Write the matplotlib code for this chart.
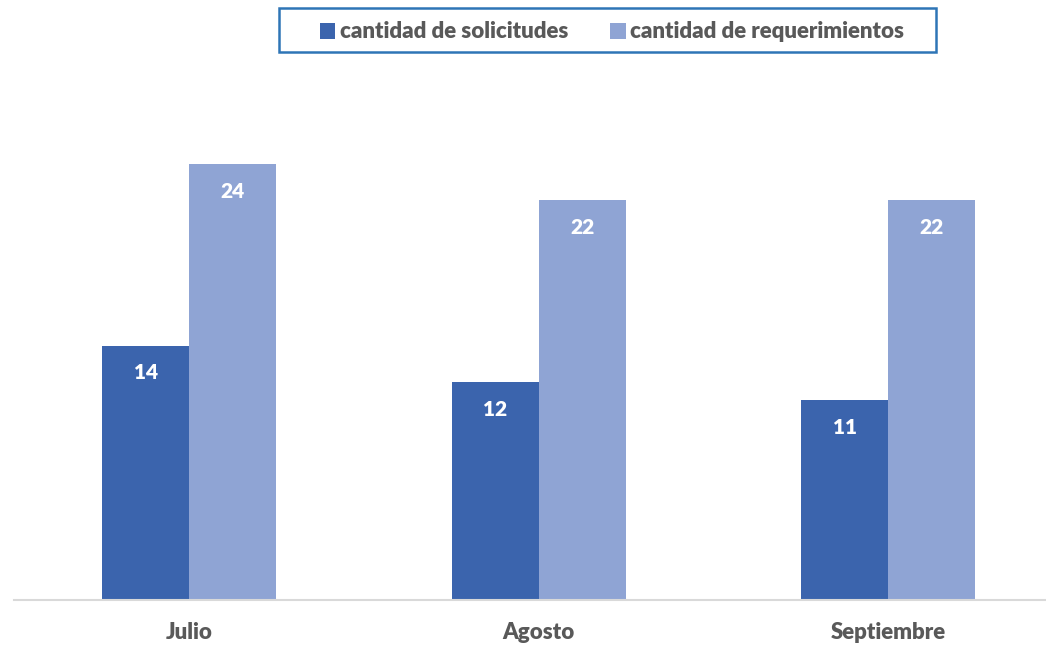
import matplotlib.pyplot as plt
from matplotlib.patches import Rectangle
import numpy as np

months = ['Julio', 'Agosto', 'Septiembre']
solicitudes = [14, 12, 11]
requerimientos = [24, 22, 22]
series_names = ['cantidad de solicitudes', 'cantidad de requerimientos']

dark = '#3B64AD'
light = '#8FA4D4'
grey = '#595959'

plt.rcParams['font.family'] = ['Lato', 'DejaVu Sans']

fig = plt.figure(figsize=(10.46, 6.45), dpi=100)
ax = fig.add_axes([14 / 1046, 45 / 645, 1 - 14 / 1046, 540 / 645])

x = np.arange(len(months))
w = 0.249
b1 = ax.bar(x - w / 2, solicitudes, w, color=dark, label=series_names[0])
b2 = ax.bar(x + w / 2, requerimientos, w, color=light, label=series_names[1])

for bars in (b1, b2):
    for r in bars:
        ax.text(r.get_x() + r.get_width() / 2, r.get_height() - 1.5,
                str(int(r.get_height())), ha='center', va='center',
                color='white', fontsize=15, fontweight='heavy')

ax.set_xlim(-0.502, 2.452)
ax.set_ylim(0, 29.72)
ax.set_xticks(x)
ax.set_xticklabels(months, fontsize=16, fontweight='heavy', color=grey)
ax.tick_params(axis='x', length=0, pad=16)
ax.set_yticks([])
for s in ['top', 'right', 'left']:
    ax.spines[s].set_visible(False)
ax.spines['bottom'].set_color('#D9D9D9')
ax.spines['bottom'].set_linewidth(1.5)

# legend without its own frame, box drawn separately
leg = fig.legend(loc='center', bbox_to_anchor=(612 / 1046, 1 - 32 / 645), ncol=2,
                 frameon=False, handlelength=0.7, handleheight=0.7,
                 handletextpad=0.2, columnspacing=1.9,
                 prop={'size': 16, 'weight': 'heavy'})
for t in leg.get_texts():
    t.set_color(grey)
fig.patches.append(Rectangle((279 / 1046, 1 - 52 / 645), 657 / 1046, 44 / 645,
                             transform=fig.transFigure, fill=False,
                             edgecolor='#2E75B6', linewidth=1.8))

fig.savefig('out.png', dpi=100)
